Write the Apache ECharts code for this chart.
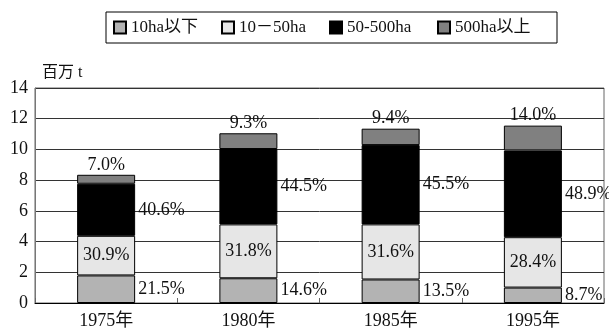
<!DOCTYPE html>
<html>
<head>
<meta charset="utf-8">
<script src="https://cdn.jsdelivr.net/npm/echarts@6/dist/echarts.min.js"></script>
<style>
  html, body { margin: 0; padding: 0; background: #fff; }
  #chart { width: 609px; height: 330px; }
</style>
</head>
<body>
<div id="chart"></div>
<script>
// Production (million t) by farm size class, with each class's share of the total
const years = ['1975年', '1980年', '1985年', '1995年'];
const totals = [8.35, 11.03, 11.35, 11.55];
const shareUnder10 = [21.5, 14.6, 13.5, 8.7];
const share10to50 = [30.9, 31.8, 31.6, 28.4];
const share50to500 = [40.6, 44.5, 45.5, 48.9];
const shareOver500 = [7.0, 9.3, 9.4, 14.0];
const classNames = ['10ha以下', '10－50ha', '50-500ha', '500ha以上'];
const classColors = ['#b3b3b3', '#e6e6e6', '#000000', '#808080'];
const yTicks = [0, 2, 4, 6, 8, 10, 12, 14];

const FONT = "'Liberation Serif', 'Noto Sans CJK JP', serif";
const shares = [shareUnder10, share10to50, share50to500, shareOver500];
const labelPositions = ['right', 'inside', 'right', 'top'];

const series = classNames.map((name, i) => ({
  name: name,
  type: 'bar',
  stack: 'total',
  barWidth: 58,
  itemStyle: { color: classColors[i], borderColor: '#000', borderWidth: 1 },
  label: {
    show: true,
    position: labelPositions[i],
    distance: labelPositions[i] === 'top' ? 1 : 3,
    color: '#111',
    fontFamily: FONT,
    fontSize: 18,
    formatter: p => shares[i][p.dataIndex].toFixed(1) + '%'
  },
  data: totals.map((t, k) => +(t * shares[i][k] / 100).toFixed(3))
}));

const chart = echarts.init(document.getElementById('chart'), null, { renderer: 'canvas' });
chart.setOption({
  animation: false,
  backgroundColor: '#fff',
  legend: {
    left: 106,
    top: 12,
    padding: [7, 22, 7, 7],
    itemGap: 10,
    itemWidth: 12,
    itemHeight: 12,
    icon: 'rect',
    borderColor: '#000',
    borderWidth: 1,
    data: classNames,
    textStyle: { fontFamily: FONT, fontSize: 17, color: '#111', width: 80, lineHeight: 17 }
  },
  grid: {
    left: 35, right: 5, top: 88, bottom: 25,
    show: true, borderColor: '#666', borderWidth: 1
  },
  xAxis: {
    type: 'category',
    data: years,
    axisLine: { lineStyle: { color: '#000', width: 1 } },
    axisTick: { show: true, inside: true, length: 5, lineStyle: { color: '#666' } },
    axisLabel: { fontFamily: FONT, fontSize: 18, color: '#111', margin: 9 }
  },
  yAxis: {
    type: 'value',
    min: yTicks[0],
    max: yTicks[yTicks.length - 1],
    interval: yTicks[1] - yTicks[0],
    name: '百万 t',
    nameLocation: 'end',
    nameGap: 7,
    nameTextStyle: { fontFamily: FONT, fontSize: 16, color: '#111', align: 'left', padding: [0, 0, 0, 7] },
    axisLine: { show: true, lineStyle: { color: '#777', width: 1 } },
    axisTick: { show: false },
    axisLabel: { fontFamily: FONT, fontSize: 18, color: '#111', margin: 7 },
    splitLine: { lineStyle: { color: '#333', width: 1 } }
  },
  series: series
});
</script>
</body>
</html>
